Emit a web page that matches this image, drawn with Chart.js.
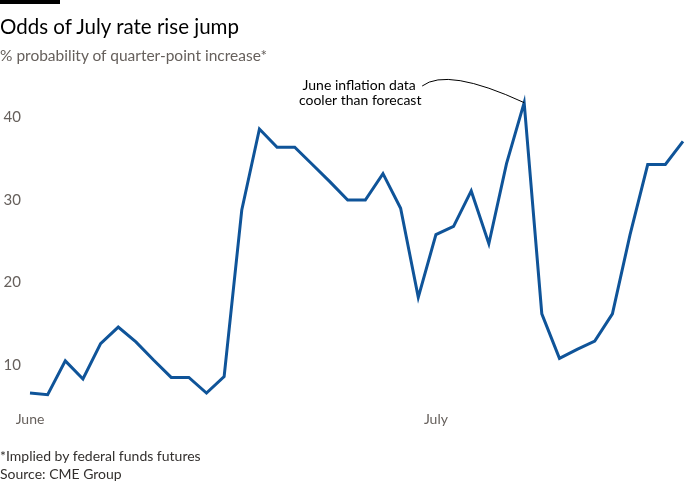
<!DOCTYPE html>
<html>
<head>
<meta charset="utf-8">
<script src="https://cdn.jsdelivr.net/npm/chart.js@4"></script>
<style>
  body { margin: 0; background: #fff; }
  #wrap { position: relative; width: 700px; height: 500px; overflow: hidden; font-family: Lato, sans-serif; }
  #chart { position: absolute; left: 0; top: 0; }
  .bar { position: absolute; left: 0; top: 0; width: 60px; height: 4px; background: #000; }
  .title { position: absolute; left: 0; top: 14px; font-size: 20.5px; color: #000; }
  .sub { position: absolute; left: 0; top: 46px; font-size: 15.5px; color: #66605c; }
  .foot { position: absolute; left: 0; top: 447px; font-size: 14px; line-height: 18px; color: #33302e; }
</style>
</head>
<body>
<div id="wrap">
  <canvas id="chart" width="700" height="500"></canvas>
  <div class="bar"></div>
  <div class="title">Odds of July rate rise jump</div>
  <div class="sub">% probability of quarter-point increase*</div>
  <div class="foot">*Implied by federal funds futures<br>Source: CME Group</div>
</div>
<script>
// % probability of a quarter-point July hike, one value per trading day
const odds = [6.6, 6.4, 10.5, 8.3, 12.6, 14.6, 12.8, 10.6, 8.5, 8.5,
              6.6, 8.6, 28.8, 38.6, 36.4, 36.4, 34.3, 32.2, 30.0, 30.0,
              33.2, 29.0, 18.2, 25.8, 26.8, 31.1, 24.7, 34.4, 41.8, 16.2,
              10.8, 11.9, 12.9, 16.2, 25.8, 34.3, 34.3, 37.1];
const monthNames = ["June", "July"];
const monthStart = [0, 23];   // index of the first trading day of each month
const yTicks = [10, 20, 30, 40];
const noteLines = ["June inflation data", "cooler than forecast"];
const notePoint = 28;         // the peak before the CPI release

const days = odds.map((v, i) => i);

const note = {
    id: "note",
    afterDraw(chart){
        const ctx = chart.ctx;
        const x = chart.scales.x.getPixelForValue(notePoint);
        const y = chart.scales.y.getPixelForValue(odds[notePoint]);
        ctx.save();
        ctx.fillStyle = "#000";
        ctx.font = "14px Lato, sans-serif";
        ctx.textAlign = "center";
        ctx.textBaseline = "middle";
        ctx.fillText(noteLines[0], x - 165, 85);
        ctx.fillText(noteLines[1], x - 164, 100);
        // curved leader line to the peak
        ctx.strokeStyle = "#000";
        ctx.lineWidth = 1;
        ctx.beginPath();
        ctx.moveTo(x - 102, 86);
        ctx.quadraticCurveTo(x - 77, 67, x, y);
        ctx.stroke();
        ctx.restore();
    }
};

const ctx = document.getElementById("chart").getContext("2d");
const chart = new Chart(ctx, {
    type: "line",
    data: {
        labels: days,
        datasets: [{
            data: odds,
            borderColor: "#0f5499",
            borderWidth: 3,
            pointRadius: 0,
            tension: 0,
            clip: false
        }]
    },
    options: {
        responsive: false,
        animation: false,
        layout: { padding: { left: 0, right: 17, top: 101, bottom: 72 } },
        plugins: { legend: { display: false }, tooltip: { enabled: false } },
        scales: {
            x: {
                grid: { display: false, drawTicks: false },
                border: { display: false },
                afterFit(scale){ scale.height = 30; },
                ticks: {
                    autoSkip: false,
                    maxRotation: 0,
                    padding: 13,
                    color: "#66605c",
                    font: { family: "Lato", size: 14 },
                    callback(v, i){
                        const m = monthStart.indexOf(i);
                        return m >= 0 ? monthNames[m] : "";
                    }
                }
            },
            y: {
                min: 6,
                max: 42,
                grid: { display: false, drawTicks: false },
                border: { display: false },
                afterFit(scale){ scale.width = 30; },
                afterBuildTicks(scale){ scale.ticks = yTicks.map(v => ({ value: v })); },
                ticks: {
                    padding: 9,
                    color: "#66605c",
                    font: { family: "Lato", size: 15 }
                }
            }
        }
    },
    plugins: [note]
});
</script>
</body>
</html>
